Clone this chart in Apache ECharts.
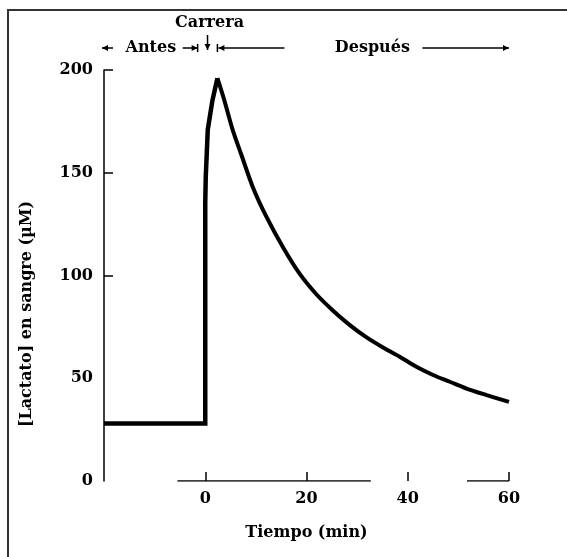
<!DOCTYPE html>
<html>
<head>
<meta charset="utf-8">
<script src="https://cdn.jsdelivr.net/npm/echarts@6/dist/echarts.min.js"></script>
<style>
html, body { margin: 0; padding: 0; background: #fff; }
#main { position: absolute; left: 0; top: 0; width: 567px; height: 557px; }
#frame { position: absolute; left: 7px; top: 9px; right: 0; bottom: 0; border-top: 2px solid #333; border-left: 2px solid #333; pointer-events: none; }
</style>
</head>
<body>
<div id="main"></div>
<div id="frame"></div>
<script>
// tiempo (min) y [lactato] en sangre (µM), leidos de la figura
// antes de la carrera y subida
var riseTime = [-20, 0, 0, 0.1, 0.5, 1.4, 2.4];
var riseLactate = [28, 28, 135, 148, 171, 185, 196];
// despues: bajada desde el pico
var decayTime = [2.4, 3.8, 5.4, 7.1, 9.4, 12, 15.3, 18.6, 21.9, 25.2, 28.5, 31.8, 35.1, 38.4, 41.7, 45, 48.3, 51.6, 55.6, 60];
var decayLactate = [196, 185, 171, 159, 143, 129, 114, 101, 91, 83, 76, 70, 65, 60.5, 55.6, 51.6, 48.3, 45, 41.8, 38.5];

var xTicks = [0, 20, 40, 60];
var yTicks = [100, 150, 200];
// tramos visibles de la linea del eje x
var xAxisRuns = [[-5.5, 32.7], [51.7, 60]];
// limites de las fases: Antes | Carrera | Despues
var phaseBounds = [-20, -1.5, 2.4, 60];

var font = "DejaVu Serif";
var txt = { color: "#000", fontFamily: font, fontWeight: "bold", fontSize: 16 };

var myChart = echarts.init(document.getElementById("main"));

function pairs(xs, ys) {
  return xs.map(function (t, i) { return [t, ys[i]]; });
}

var series = [
  {
    name: "subida",
    type: "line",
    data: pairs(riseTime, riseLactate),
    symbol: "none",
    z: 3,
    lineStyle: { color: "#000", width: 4.5, join: "miter" }
  },
  {
    name: "bajada",
    type: "line",
    data: pairs(decayTime, decayLactate),
    symbol: "none",
    smooth: 0.3,
    z: 3,
    lineStyle: { color: "#000", width: 4 }
  }
];
xAxisRuns.forEach(function (r, i) {
  series.push({
    name: "eje" + i,
    type: "line",
    data: [[r[0], 0], [r[1], 0]],
    symbol: "none",
    z: 2,
    lineStyle: { color: "#000", width: 1.5 }
  });
});

var option = {
  animation: false,
  grid: { left: 104, top: 70, width: 405, height: 411 },
  xAxis: {
    type: "value",
    min: -20,
    max: 60,
    interval: 20,
    name: "Tiempo (min)",
    nameLocation: "middle",
    nameGap: 44,
    nameTextStyle: txt,
    axisLine: { show: false, onZero: false },
    axisTick: { show: true, inside: true, length: 9, customValues: xTicks, lineStyle: { color: "#000", width: 1.5 } },
    axisLabel: { customValues: xTicks, margin: 10, color: "#000", fontFamily: font, fontWeight: "bold", fontSize: 16 },
    splitLine: { show: false }
  },
  yAxis: {
    type: "value",
    min: 0,
    max: 200,
    interval: 50,
    axisLine: { show: true, onZero: false, lineStyle: { color: "#000", width: 1.5 } },
    axisTick: { show: true, inside: true, length: 9, customValues: yTicks, lineStyle: { color: "#000", width: 1.5 } },
    axisLabel: { margin: 11, color: "#000", fontFamily: font, fontWeight: "bold", fontSize: 16 },
    splitLine: { show: false }
  },
  series: series
};
myChart.setOption(option);

// anotaciones de arriba (flechas de fases)
function px(t) {
  return myChart.convertToPixel({ gridIndex: 0 }, [t, 0])[0];
}
var rowY = 48;
var lineSt = { stroke: "#000", lineWidth: 1.5 };
function seg(x1, y1, x2, y2) {
  return { type: "line", shape: { x1: x1, y1: y1, x2: x2, y2: y2 }, style: lineSt };
}
function head(x, y, dx, dy) {
  // punta de flecha en (x,y) apuntando en direccion (dx,dy)
  var L = 6, W = 3;
  return {
    type: "polygon",
    shape: { points: [[x, y], [x - dx * L - dy * W, y - dy * L - dx * W], [x - dx * L + dy * W, y - dy * L + dx * W]] },
    style: { fill: "#000" }
  };
}
var xa = px(phaseBounds[0]) - 2;
var xb = px(phaseBounds[1]);
var xc = px(phaseBounds[2]);
var xd = px(phaseBounds[3]);
var xMid = (xb + xc) / 2;
var g = [];
// Antes
g.push(seg(xa, rowY, xa + 11, rowY), head(xa, rowY, -1, 0));
g.push({ type: "text", x: (xa + xb) / 2 + 1, y: rowY, style: { text: "Antes", font: "bold 16px " + font, fill: "#000", align: "center", verticalAlign: "middle" } });
g.push(seg(xb - 15, rowY, xb, rowY), head(xb, rowY, 1, 0), seg(xb, rowY - 4, xb, rowY + 4));
// Carrera
g.push({ type: "text", x: xMid + 2, y: 23, style: { text: "Carrera", font: "bold 16px " + font, fill: "#000", align: "center", verticalAlign: "middle" } });
g.push(seg(xMid, 35, xMid, rowY + 2), head(xMid, rowY + 2, 0, 1));
// Despues
g.push(seg(xc, rowY - 4, xc, rowY + 4), head(xc + 1, rowY, -1, 0), seg(xc + 1, rowY, xc + 67, rowY));
g.push({ type: "text", x: xc + 155, y: rowY, style: { text: "Después", font: "bold 16px " + font, fill: "#000", align: "center", verticalAlign: "middle" } });
g.push(seg(xc + 205, rowY, xd, rowY), head(xd, rowY, 1, 0));
// etiqueta del eje y
g.push({ type: "text", x: 27, y: 314, rotation: Math.PI / 2, style: { text: "[Lactato] en sangre (\u00b5M)", font: "bold 16px " + font, fill: "#000", align: "center", verticalAlign: "middle" } });

myChart.setOption({ graphic: g });
</script>
</body>
</html>
